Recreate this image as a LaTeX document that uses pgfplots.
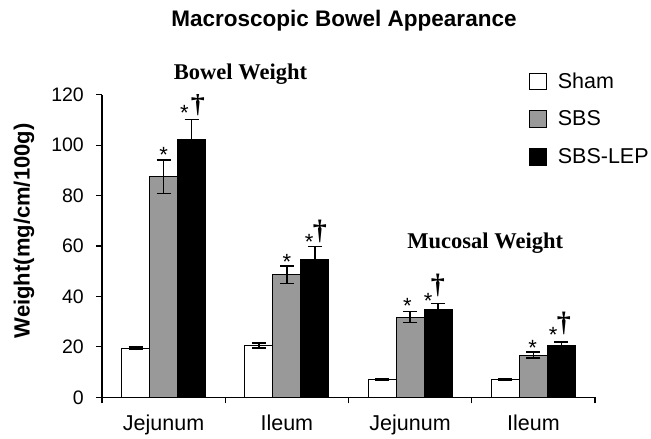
\documentclass[border=0pt]{standalone}
\usepackage{fontspec}
\setmainfont{Liberation Sans}
\newfontfamily\tnr{Liberation Serif}
\usepackage{pgfplots}
\pgfplotsset{compat=1.18}
\definecolor{sbsgray}{HTML}{999999}
\tikzset{star/.style={anchor=north, inner sep=0pt, font=\fontsize{22bp}{24bp}\selectfont},
         lstar/.style={star, xshift=-1.2bp},
         dag/.style={anchor=center, inner sep=0pt, xshift=0.6bp, font=\tnr\bfseries\fontsize{28bp}{30bp}\selectfont}}
\begin{document}
\begin{tikzpicture}
\path (0,0) rectangle (651bp,439bp);
\node[anchor=base, font=\bfseries\fontsize{22.5bp}{26bp}\selectfont, inner sep=0] at (344bp,412bp) {Macroscopic Bowel Appearance};
\node[anchor=base, font=\tnr\bfseries\fontsize{22.5bp}{26bp}\selectfont, inner sep=0] at (240.5bp,359bp) {Bowel Weight};
\node[anchor=base, font=\tnr\bfseries\fontsize{22.5bp}{26bp}\selectfont, inner sep=0] at (485.3bp,190.7bp) {Mucosal Weight};
\begin{axis}[
  at={(102bp,41.7bp)}, anchor=south west, scale only axis,
  width=493bp, height=302.6bp,
  xmin=-0.5, xmax=3.5, ymin=0, ymax=120,
  axis lines*=left,
  axis line style={line width=1.2bp, black},
  ybar=0pt, bar width=28bp,
  ytick={0,20,...,120},
  xtick={-0.5,0.5,1.5,2.5,3.5}, xticklabels={},
  extra x ticks={0,1,2,3},
  extra x tick labels={Jejunum,Ileum,Jejunum,Ileum},
  extra x tick style={major tick length=0pt},
  tick align=outside, major tick length=6bp,
  tick style={line width=1.2bp, black},
  /pgf/number format/assume math mode=true,
  yticklabel style={font=\fontsize{19.5bp}{22bp}\selectfont, inner sep=0pt, anchor=east, xshift=-12bp},
  xticklabel style={font=\fontsize{21.5bp}{25bp}\selectfont, inner sep=0pt, anchor=north, text height=15.4bp, text depth=0pt, yshift=-17.6bp},
  ylabel={Weight(mg/cm/100g)},
  ylabel style={font=\bfseries\fontsize{22bp}{25bp}\selectfont, at={(axis description cs:-0.158,0.55)}, anchor=center, inner sep=0pt},
  legend style={at={(0.866,1.075)}, anchor=north west, draw=none, fill=none, inner sep=0pt,
    font=\fontsize{21.5bp}{25bp}\selectfont, row sep=17.7bp, column sep=11bp,
    nodes={inner sep=0pt, text height=16bp, text depth=4bp}},
  legend cell align=left,
  legend image code/.code={\draw[#1, line width=1bp] (0bp,-7.7bp) rectangle (16.7bp,9bp);},
  error bars/error bar style={line width=1.5bp, black},
  error bars/error mark options={rotate=90, black, mark size=7bp, line width=1.5bp},
]
\addplot[fill=white, draw=black, line width=1.2bp,
  error bars/.cd, y dir=both, y explicit]
  coordinates {(0,19.5) +- (0,0.5) (1,20.5) +- (0,1.0) (2,7.1) +- (0,0.3) (3,7.0) +- (0,0.3)};
\addplot[fill=sbsgray, draw=black, line width=1.2bp,
  error bars/.cd, y dir=both, y explicit]
  coordinates {(0,87.5) +- (0,6.7) (1,48.6) +- (0,3.5) (2,31.8) +- (0,2.2) (3,16.7) +- (0,1.2)};
\addplot[fill=black, draw=black, line width=1.2bp,
  error bars/.cd, y dir=both, y explicit]
  coordinates {(0,102.1) +- (0,8.0) (1,54.5) +- (0,5.3) (2,34.7) +- (0,2.5) (3,20.7) +- (0,1.3)};
\legend{Sham,SBS,SBS-LEP}
% significance markers
\node[star] at (axis cs:0,99.1) {*};
\node[lstar] at (axis cs:0.179,115.8) {*};
\node[dag] at (axis cs:0.273,116.1) {†};
\node[star] at (axis cs:1,56.9) {*};
\node[lstar] at (axis cs:1.19,64.7) {*};
\node[dag] at (axis cs:1.263,65.6) {†};
\node[star] at (axis cs:1.977,39.3) {*};
\node[lstar] at (axis cs:2.156,41.3) {*};
\node[dag] at (axis cs:2.22,44.4) {†};
\node[star] at (axis cs:2.994,22.6) {*};
\node[lstar] at (axis cs:3.17,27.8) {*};
\node[dag] at (axis cs:3.243,29.2) {†};
\end{axis}
\end{tikzpicture}
\end{document}
